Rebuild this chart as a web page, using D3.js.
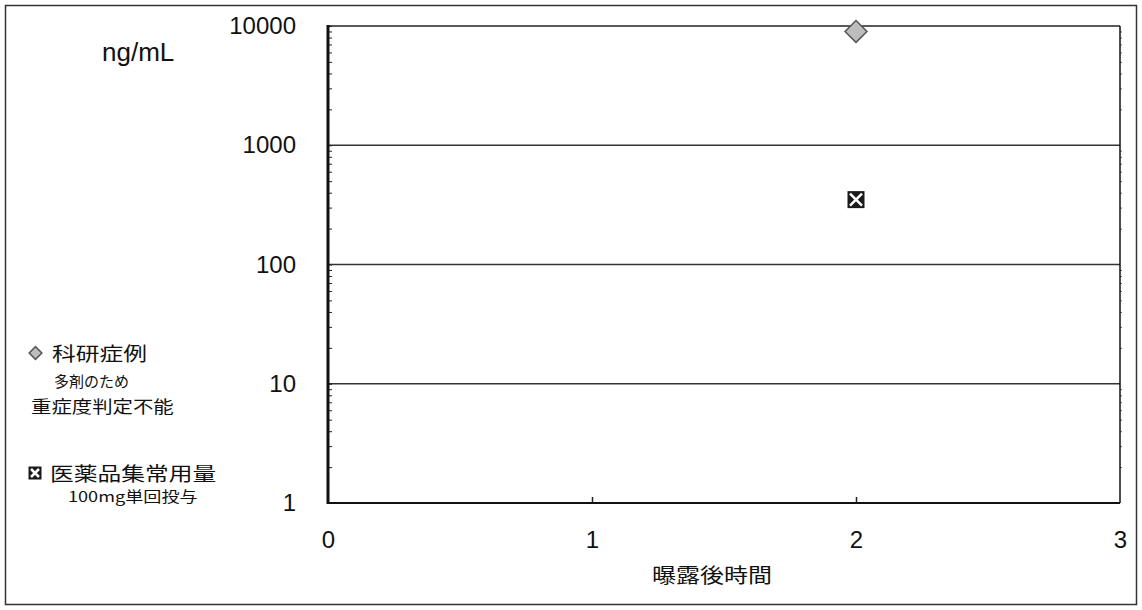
<!DOCTYPE html>
<html>
<head>
<meta charset="utf-8">
<script src="https://cdn.jsdelivr.net/npm/d3@7"></script>
<style>
  body { margin: 0; background: #fff; }
  svg { display: block; }
  .num { font-family: "Liberation Sans Narrow", "Liberation Sans", sans-serif; font-size: 24px; fill: #111; }
  .jp { font-family: "Noto Sans CJK JP", sans-serif; fill: #111; }
</style>
</head>
<body>
<div class="plot"></div>
<script>
// Data
const times = [2];                 // 曝露後時間
const kakenValues = [9000];        // 科研症例 (ng/mL)
const usualDoseValues = [350];     // 医薬品集常用量 100mg単回投与 (ng/mL)

const xTicks = [0, 1, 2, 3];
const yTicks = [1, 10, 100, 1000, 10000];
const yGrid = [10, 100, 1000];

const legendTitles = ['科研症例', '医薬品集常用量'];
const legendNotes = [['多剤のため', '重症度判定不能'], ['100mg単回投与']];

const W = 1142, H = 610;
const plotL = 328, plotR = 1120, plotT = 26, plotB = 503;

const svg = d3.select('.plot').append('svg')
	.attr('width', W)
	.attr('height', H);

svg.append('rect')
	.attr('width', W).attr('height', H)
	.attr('fill', '#fff');

// outer frame
svg.append('rect')
	.attr('x', 5.5).attr('y', 5.5)
	.attr('width', 1131).attr('height', 599)
	.attr('fill', 'none')
	.attr('stroke', '#333')
	.attr('stroke-width', 1.5);

const x = d3.scaleLinear().domain([0, 3]).range([plotL, plotR]);
const y = d3.scaleLog().domain([1, 10000]).range([plotB, plotT]);

// minor log ticks
const minor = [];
for (let p = 0; p < 4; p++) {
	for (let m = 2; m <= 9; m++) minor.push(m * Math.pow(10, p));
}

// gridlines
svg.append('g')
	.selectAll('line')
	.data(yGrid)
	.join('line')
	.attr('x1', plotL).attr('x2', plotR)
	.attr('y1', d => y(d)).attr('y2', d => y(d))
	.attr('stroke', '#333')
	.attr('stroke-width', 1.5);

// left axis minor ticks pointing inward
svg.append('g')
	.attr('transform', `translate(${plotL},0)`)
	.call(d3.axisRight(y).tickValues(minor.concat(yTicks)).tickSize(4).tickFormat(''))
	.call(g => g.select('.domain').remove())
	.call(g => g.selectAll('line').attr('stroke', '#222'));

// right axis small ticks
svg.append('g')
	.attr('transform', `translate(${plotR},0)`)
	.call(d3.axisRight(y).tickValues(minor).tickSize(2).tickFormat(''))
	.call(g => g.select('.domain').remove())
	.call(g => g.selectAll('line').attr('stroke', '#666'));

// plot frame
svg.append('line').attr('x1', plotL).attr('x2', plotR).attr('y1', plotT).attr('y2', plotT)
	.attr('stroke', '#222').attr('stroke-width', 1.5);
svg.append('line').attr('x1', plotR).attr('x2', plotR).attr('y1', plotT).attr('y2', plotB)
	.attr('stroke', '#111').attr('stroke-width', 1.5);
svg.append('line').attr('x1', plotL).attr('x2', plotR).attr('y1', plotB).attr('y2', plotB)
	.attr('stroke', '#111').attr('stroke-width', 2);
svg.append('line').attr('x1', plotL).attr('x2', plotL).attr('y1', plotT - 1).attr('y2', plotB + 1)
	.attr('stroke', '#111').attr('stroke-width', 3);

// x ticks pointing up
svg.append('g')
	.attr('transform', `translate(0,${plotB})`)
	.call(d3.axisTop(x).tickValues([1, 2]).tickSize(6).tickFormat(''))
	.call(g => g.select('.domain').remove())
	.call(g => g.selectAll('line').attr('stroke', '#222').attr('stroke-width', 1.5));

// y labels
svg.append('g')
	.attr('transform', `translate(${plotL},0)`)
	.call(d3.axisLeft(y).tickValues(yTicks).tickSize(0).tickPadding(32).tickFormat(d3.format('d')))
	.call(g => g.select('.domain').remove())
	.call(g => g.selectAll('text').attr('class', 'num').attr('font-family', null).attr('font-size', null));

// x labels
svg.append('g')
	.attr('transform', `translate(0,${plotB})`)
	.call(d3.axisBottom(x).tickValues(xTicks).tickSize(0).tickPadding(28).tickFormat(d3.format('d')))
	.call(g => g.select('.domain').remove())
	.call(g => g.selectAll('text').attr('class', 'num').attr('font-family', null).attr('font-size', null));

// unit label
svg.append('text')
	.attr('class', 'num')
	.attr('x', 102).attr('y', 61)
	.attr('font-size', 26)
	.style('font-size', '26px')
	.text('ng/mL');

// x axis title
svg.append('text')
	.attr('class', 'jp')
	.attr('transform', 'translate(712,583) scale(1.2,1)')
	.attr('text-anchor', 'middle')
	.attr('font-size', 20)
	.text('曝露後時間');

// markers
function drawDiamond(g, cx, cy, s) {
	g.append('path')
		.attr('d', d3.symbol().type(d3.symbolSquare).size(s * s)())
		.attr('transform', `translate(${cx},${cy}) rotate(45)`)
		.attr('fill', '#bdbdbd')
		.attr('stroke', '#555')
		.attr('stroke-width', 1.5);
}

function drawBoxX(g, cx, cy, s) {
	const h = s / 2;
	g.append('rect')
		.attr('x', cx - h).attr('y', cy - h)
		.attr('width', s).attr('height', s)
		.attr('fill', '#1a1a1a');
	const k = h - 2.5;
	g.append('path')
		.attr('d', `M${cx - k},${cy - k}L${cx + k},${cy + k}M${cx + k},${cy - k}L${cx - k},${cy + k}`)
		.attr('stroke', '#fff')
		.attr('stroke-width', 2.5);
}

const marks = svg.append('g');
times.forEach((t, i) => drawDiamond(marks, x(t), y(kakenValues[i]), 15.5));
times.forEach((t, i) => drawBoxX(marks, x(t), y(usualDoseValues[i]), 17));

// legend
const leg = svg.append('g');
drawDiamond(leg, 35.5, 353, 9);
leg.append('text')
	.attr('class', 'jp')
	.attr('transform', 'translate(52,361) scale(1.25,1)')
	.attr('font-size', 19)
	.text(legendTitles[0]);
leg.append('text')
	.attr('class', 'jp')
	.attr('transform', 'translate(54,387)')
	.attr('font-size', 15)
	.text(legendNotes[0][0]);
leg.append('text')
	.attr('class', 'jp')
	.attr('transform', 'translate(31,413) scale(1.2,1)')
	.attr('font-size', 17)
	.text(legendNotes[0][1]);

drawBoxX(leg, 35, 473, 13);
leg.append('text')
	.attr('class', 'jp')
	.attr('transform', 'translate(50,481) scale(1.25,1)')
	.attr('font-size', 19)
	.text(legendTitles[1]);
leg.append('text')
	.attr('class', 'jp')
	.attr('transform', 'translate(68,502) scale(1.25,1)')
	.attr('font-size', 14.5)
	.text(legendNotes[1][0]);
</script>
</body>
</html>
